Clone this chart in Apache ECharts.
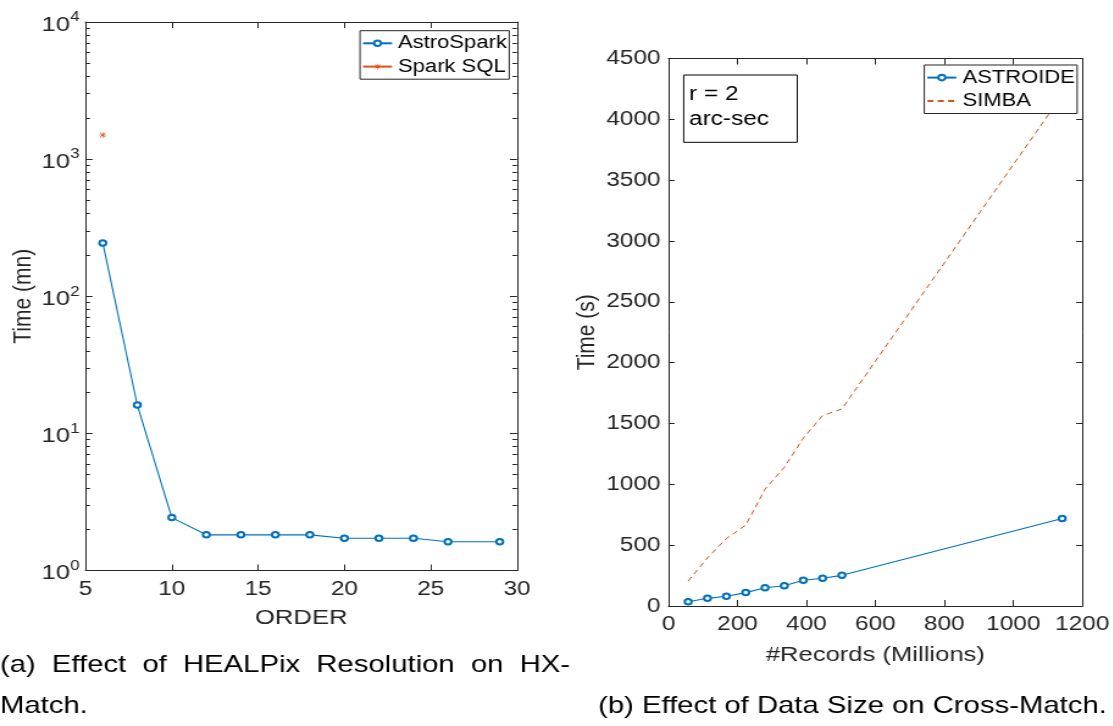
<!DOCTYPE html>
<html><head><meta charset="utf-8">
<script src="https://cdn.jsdelivr.net/npm/echarts@6/dist/echarts.min.js"></script>
<style>html,body{margin:0;padding:0;background:#fff;overflow:hidden}
#wrap{width:1113px;height:726px;overflow:hidden;position:relative}
#c{height:726px;transform-origin:0 0;position:absolute;left:0;top:0}
</style></head><body><div id="wrap"><div id="c"></div></div>
<script>
// ---------- data ----------
const orderValues = [6, 8, 10, 12, 14, 16, 18, 20, 22, 24, 26, 29];
const astroSparkTime = [245, 16.1, 2.43, 1.82, 1.82, 1.82, 1.82, 1.72, 1.72, 1.72, 1.62, 1.62];
const sparkSqlOrder = [6];
const sparkSqlTime = [1500];
const recordsMillions = [57, 113, 168, 224, 280, 336, 391, 447, 503, 1142];
const astroideTime = [35, 63, 80, 110, 150, 167, 211, 228, 252, 720];
const simbaTime = [205, 395, 555, 665, 960, 1140, 1380, 1565, 1620, 4200];
const logMajorTicks = [1, 10, 100, 1000, 10000];
const logMinorTicks = [2, 3, 4, 5, 6, 7, 8, 9, 20, 30, 40, 50, 60, 70, 80, 90,
  200, 300, 400, 500, 600, 700, 800, 900, 2000, 3000, 4000, 5000, 6000, 7000, 8000, 9000];
const captionAWords = ['(a)', 'Effect', 'of', 'HEALPix', 'Resolution', 'on', 'HX-'];
const captionALine2 = 'Match.';
const captionB = '(b) Effect of Data Size on Cross-Match.';
const annotationLines = ['r = 2', 'arc-sec'];

// ---------- layout (the reference figure is stretched horizontally) ----------
const S = 1.22;
const W = 1113 / S;
const el = document.getElementById('c');
el.style.width = W + 'px';
el.style.transform = 'scaleX(' + S + ')';
const X = px => px / S;

const FONT = 'Liberation Sans';
const AX = '#262626';
const BLUE = '#0072BD';
const ORANGE = '#D95319';
const ASTERISK = 'path://M4.5,0h1v10h-1zM0,4.5h10v1h-10zM1,1.7L1.7,1L9,8.3L8.3,9zM8.3,1L9,1.7L1.7,9L1,8.3z';

function frameAxis(o) {
  const base = {
    axisLine: { show: true, onZero: false, lineStyle: { color: AX, width: 1 } },
    splitLine: { show: false },
    axisLabel: { show: false },
    axisTick: { show: true, inside: true, length: 6, lineStyle: { color: AX, width: 1 } },
    silent: true
  };
  return Object.assign(base, o);
}

const chart = echarts.init(el, null, { renderer: 'canvas', width: W, height: 726 });

// justified first caption line
const ctx = document.createElement('canvas').getContext('2d');
const capFont = 24;
ctx.font = capFont + 'px "' + FONT + '"';
const wordW = captionAWords.map(w => ctx.measureText(w).width);
const lineWidth = X(570);
const gap = (lineWidth - wordW.reduce((a, b) => a + b, 0)) / (captionAWords.length - 1);
const graphics = [];
let cx = 0;
captionAWords.forEach((w, i) => {
  graphics.push({ type: 'text', x: cx, y: 665, z: 100,
    style: { text: w, fontSize: capFont, fontFamily: FONT, fill: '#000', textAlign: 'left', textVerticalAlign: 'middle' } });
  cx += wordW[i] + gap;
});
graphics.push({ type: 'text', x: 0, y: 706, z: 100,
  style: { text: captionALine2, fontSize: capFont, fontFamily: FONT, fill: '#000', textAlign: 'left', textVerticalAlign: 'middle' } });
graphics.push({ type: 'text', x: X(598), y: 706, z: 100,
  style: { text: captionB, fontSize: capFont, fontFamily: FONT, fill: '#000', textAlign: 'left', textVerticalAlign: 'middle' } });
// annotation box
graphics.push({ type: 'rect', z: 100, shape: { x: X(683.7), y: 75, width: X(113.6), height: 67.3 },
  style: { fill: '#fff', stroke: '#000', lineWidth: 1 } });
annotationLines.forEach((t, i) => {
  graphics.push({ type: 'text', x: X(689), y: 94 + i * 25.5, z: 101,
    style: { text: t, fontSize: 20, fontFamily: FONT, fill: '#000', textAlign: 'left', textVerticalAlign: 'middle' } });
});

const tickLabel = { fontSize: 20, color: AX, fontFamily: FONT, formatter: v => String(v) };
const legendBase = {
  orient: 'vertical', padding: [2.6, 2, 2.6, 1.5], itemGap: 3.3, itemWidth: X(29), itemHeight: 7,
  backgroundColor: '#fff', borderColor: AX, borderWidth: 1, borderRadius: 0,
  itemStyle: { borderWidth: 1 },
  textStyle: { fontSize: 18, color: '#000', fontFamily: FONT, lineHeight: 20 }
};

const option = {
  animation: false,
  backgroundColor: '#fff',
  textStyle: { fontFamily: FONT },
  grid: [
    { left: X(85.5), top: 22, width: X(431.5), height: 548.5 },
    { left: X(668.5), top: 58.5, width: X(415.2), height: 547.5 }
  ],
  xAxis: [
    frameAxis({ type: 'value', gridIndex: 0, position: 'bottom', min: 5, max: 30, interval: 5,
      axisLabel: Object.assign({ show: true, margin: 9 }, tickLabel),
      name: 'ORDER', nameLocation: 'middle', nameGap: 37,
      nameTextStyle: { fontSize: 21, color: AX, fontFamily: FONT } }),
    frameAxis({ type: 'value', gridIndex: 0, position: 'top', min: 5, max: 30, interval: 5 }),
    frameAxis({ type: 'value', gridIndex: 1, position: 'bottom', min: 0, max: 1200, interval: 200,
      axisLabel: Object.assign({ show: true, margin: 8 }, tickLabel),
      name: '#Records (Millions)', nameLocation: 'middle', nameGap: 39,
      nameTextStyle: { fontSize: 21, color: AX, fontFamily: FONT } }),
    frameAxis({ type: 'value', gridIndex: 1, position: 'top', min: 0, max: 1200, interval: 200 })
  ],
  yAxis: [
    frameAxis({ type: 'log', logBase: 10, gridIndex: 0, position: 'left', min: 1, max: 10000,
      axisTick: { show: true, inside: true, length: X(7), lineStyle: { color: AX }, customValues: logMajorTicks },
      axisLabel: { show: true, margin: X(6), customValues: logMajorTicks,
        formatter: v => '{b|10}{s|' + Math.round(Math.log10(v)) + '}',
        rich: { b: { fontSize: 21, color: AX, fontFamily: FONT, padding: [6, 0, 0, 0] },
                s: { fontSize: 14, color: AX, fontFamily: FONT, padding: [0, 0, 9, 0] } } },
      name: 'Time (mn)', nameLocation: 'middle', nameGap: 40,
      nameTextStyle: { fontSize: 21, color: AX, fontFamily: FONT } }),
    frameAxis({ type: 'log', logBase: 10, gridIndex: 0, position: 'right', min: 1, max: 10000,
      axisTick: { show: true, inside: true, length: X(7), lineStyle: { color: AX }, customValues: logMajorTicks } }),
    frameAxis({ type: 'log', logBase: 10, gridIndex: 0, position: 'left', min: 1, max: 10000,
      axisLine: { show: false },
      axisTick: { show: true, inside: true, length: X(4.5), lineStyle: { color: AX }, customValues: logMinorTicks } }),
    frameAxis({ type: 'log', logBase: 10, gridIndex: 0, position: 'right', min: 1, max: 10000,
      axisLine: { show: false },
      axisTick: { show: true, inside: true, length: X(4.5), lineStyle: { color: AX }, customValues: logMinorTicks } }),
    frameAxis({ type: 'value', gridIndex: 1, position: 'left', min: 0, max: 4500, interval: 500,
      axisTick: { show: true, inside: true, length: X(6), lineStyle: { color: AX } },
      axisLabel: Object.assign({ show: true, margin: X(8) }, tickLabel),
      name: 'Time (s)', nameLocation: 'middle', nameGap: 56,
      nameTextStyle: { fontSize: 21, color: AX, fontFamily: FONT } }),
    frameAxis({ type: 'value', gridIndex: 1, position: 'right', min: 0, max: 4500, interval: 500,
      axisTick: { show: true, inside: true, length: X(6), lineStyle: { color: AX } } })
  ],
  legend: [
    Object.assign({}, legendBase, { data: ['AstroSpark', 'Spark SQL'], left: X(360), top: 30.7 }),
    Object.assign({}, legendBase, { data: ['ASTROIDE',
      { name: 'SIMBA', itemStyle: { color: 'rgba(0,0,0,0)', borderColor: 'rgba(0,0,0,0)', opacity: 0 } }],
      left: X(924.3), top: 65 })
  ],
  graphic: graphics,
  series: [
    { name: 'AstroSpark', type: 'line', xAxisIndex: 0, yAxisIndex: 0,
      data: orderValues.map((x, i) => [x, astroSparkTime[i]]),
      symbol: 'emptyCircle', symbolSize: 5.5, color: BLUE,
      lineStyle: { color: BLUE, width: 1.1 }, itemStyle: { color: BLUE, borderWidth: 1 } },
    { name: 'Spark SQL', type: 'line', xAxisIndex: 0, yAxisIndex: 0,
      data: sparkSqlOrder.map((x, i) => [x, sparkSqlTime[i]]),
      symbol: ASTERISK, symbolSize: 6, color: ORANGE,
      lineStyle: { color: ORANGE, width: 1 }, itemStyle: { color: ORANGE } },
    { name: 'ASTROIDE', type: 'line', xAxisIndex: 2, yAxisIndex: 4,
      data: recordsMillions.map((x, i) => [x, astroideTime[i]]),
      symbol: 'emptyCircle', symbolSize: 5.5, color: BLUE,
      lineStyle: { color: BLUE, width: 1.1 }, itemStyle: { color: BLUE, borderWidth: 1 } },
    { name: 'SIMBA', type: 'line', xAxisIndex: 2, yAxisIndex: 4,
      data: recordsMillions.map((x, i) => [x, simbaTime[i]]),
      symbol: 'none', color: ORANGE,
      lineStyle: { color: ORANGE, width: 1, type: [5, 3.5] } }
  ]
};
chart.setOption(option);
</script></body></html>
